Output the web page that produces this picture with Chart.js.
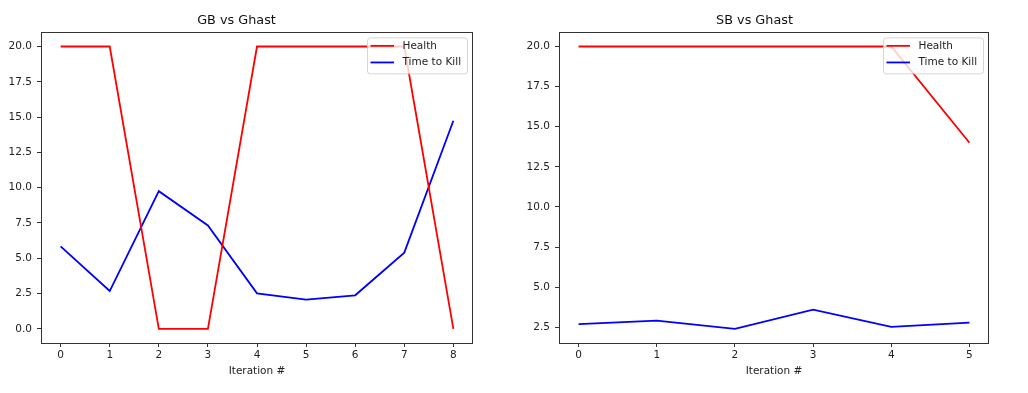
<!DOCTYPE html>
<html>
<head>
<meta charset="utf-8">
<script src="https://cdn.jsdelivr.net/npm/chart.js@4"></script>
<style>
  body { margin: 0; background: #fff; }
  .panel { position: absolute; top: 0; }
</style>
</head>
<body>
<div class="panel" style="left:0px"><canvas id="gb-chart" width="514" height="393"></canvas></div>
<div class="panel" style="left:520px"><canvas id="sb-chart" width="508" height="393"></canvas></div>
<script>
// GB vs Ghast
const gbIterations = [0, 1, 2, 3, 4, 5, 6, 7, 8];
const gbHealth = [20, 20, 0, 0, 20, 20, 20, 20, 0];
const gbTimeToKill = [5.84, 2.68, 9.75, 7.32, 2.52, 2.07, 2.38, 5.4, 14.74];
const gbYTicks = [0, 2.5, 5, 7.5, 10, 12.5, 15, 17.5, 20];

// SB vs Ghast
const sbIterations = [0, 1, 2, 3, 4, 5];
const sbHealth = [20, 20, 20, 20, 20, 14];
const sbTimeToKill = [2.7, 2.92, 2.4, 3.6, 2.52, 2.79];
const sbYTicks = [2.5, 5, 7.5, 10, 12.5, 15, 17.5, 20];

const seriesLabels = ["Health", "Time to Kill"];
const seriesColors = ["#ff0000", "#0000ff"];

const FONT = "'DejaVu Sans', sans-serif";
const TEXT = "#222222";
const SPINE = "#333333";

// matplotlib style 5% margins around the data
function padRange(values) {
  const lo = Math.min(...values);
  const hi = Math.max(...values);
  const pad = (hi - lo) * 0.05;
  return [lo - pad, hi + pad];
}

// full box around the plot, like the axes spines
const framePlugin = {
  id: "frame",
  afterDatasetsDraw(chart) {
    const { ctx, chartArea: a } = chart;
    ctx.save();
    ctx.strokeStyle = SPINE;
    ctx.lineWidth = 1;
    ctx.strokeRect(Math.round(a.left) + 0.5, Math.round(a.top) + 0.5,
      Math.round(a.right - a.left) - 1, Math.round(a.bottom - a.top));
    ctx.restore();
  },
};

// legend box inside the upper right corner
const insideLegend = {
  id: "insideLegend",
  afterDraw(chart) {
    const { ctx, chartArea: a } = chart;
    const w = 100, h = 36;
    const x = a.right - 6 - w;
    const y = a.top + 5;
    ctx.save();
    ctx.beginPath();
    ctx.roundRect(x + 0.5, y + 0.5, w, h, 3);
    ctx.fillStyle = "rgba(255,255,255,0.8)";
    ctx.fill();
    ctx.strokeStyle = "rgba(204,204,204,0.8)";
    ctx.lineWidth = 1;
    ctx.stroke();
    ctx.font = "10.5px " + FONT;
    ctx.textBaseline = "middle";
    chart.data.datasets.forEach((ds, i) => {
      const ly = y + 8.5 + i * 16.6;
      ctx.beginPath();
      ctx.moveTo(x + 3.5, ly);
      ctx.lineTo(x + 27, ly);
      ctx.strokeStyle = ds.borderColor;
      ctx.lineWidth = 1.8;
      ctx.stroke();
      ctx.fillStyle = TEXT;
      ctx.fillText(ds.label, x + 35.5, ly);
    });
    ctx.restore();
  },
};

function makeChart(id, title, iterations, health, ttk, yTicks, rightPad) {
  const xr = padRange(iterations);
  const yr = padRange(health.concat(ttk));
  const series = [health, ttk];
  return new Chart(document.getElementById(id), {
    type: "line",
    data: {
      datasets: series.map((vals, i) => ({
        label: seriesLabels[i],
        data: vals.map((v, k) => ({ x: iterations[k], y: v })),
        borderColor: seriesColors[i],
        backgroundColor: seriesColors[i],
        borderWidth: 1.8,
        pointRadius: 0,
        tension: 0,
        fill: false,
      })),
    },
    options: {
      responsive: false,
      animation: false,
      layout: { padding: { left: 0, right: rightPad, top: 0, bottom: 0 } },
      plugins: {
        legend: { display: false },
        tooltip: { enabled: false },
        title: {
          display: true,
          text: title,
          color: "#111111",
          font: { family: FONT, size: 12.8, weight: "normal" },
          padding: { top: 13, bottom: 4 },
        },
      },
      scales: {
        x: {
          type: "linear",
          min: xr[0],
          max: xr[1],
          afterBuildTicks: (scale) => {
            scale.ticks = iterations.map((v) => ({ value: v }));
          },
          afterFit: (scale) => { scale.height = 50; },
          grid: { display: true, drawOnChartArea: false, drawTicks: true, tickLength: 4, color: SPINE },
          border: { display: false },
          ticks: {
            color: TEXT,
            padding: 2,
            font: { family: FONT, size: 10.5 },
            maxRotation: 0,
            callback: (v) => String(v),
          },
          title: {
            display: true,
            text: "Iteration #",
            color: TEXT,
            font: { family: FONT, size: 10.5 },
            padding: { top: 0, bottom: 15.7 },
          },
        },
        y: {
          min: yr[0],
          max: yr[1],
          afterBuildTicks: (scale) => {
            scale.ticks = yTicks.map((v) => ({ value: v }));
          },
          afterFit: (scale) => { scale.width = id === "gb-chart" ? 41 : 39; },
          grid: { display: true, drawOnChartArea: false, drawTicks: true, tickLength: 4, color: SPINE },
          border: { display: false },
          ticks: {
            color: TEXT,
            padding: 5,
            font: { family: FONT, size: 10.5 },
            callback: (v) => Number(v).toFixed(1),
          },
        },
      },
    },
    plugins: [framePlugin, insideLegend],
  });
}

makeChart("gb-chart", "GB vs Ghast", gbIterations, gbHealth, gbTimeToKill, gbYTicks, 41);
makeChart("sb-chart", "SB vs Ghast", sbIterations, sbHealth, sbTimeToKill, sbYTicks, 39);
</script>
</body>
</html>
